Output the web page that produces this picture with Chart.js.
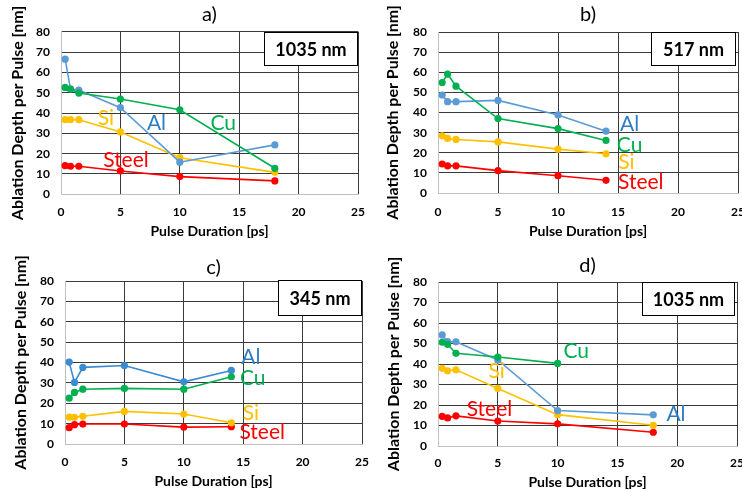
<!DOCTYPE html>
<html><head><meta charset="utf-8">
<script src="https://cdn.jsdelivr.net/npm/chart.js@4"></script>
<style>
html,body{margin:0;padding:0;background:#fff;}
#wrap{position:relative;width:742px;height:492px;overflow:hidden;background:#fff;}
canvas{position:absolute;}
</style></head><body>
<div id="wrap">
<canvas id="ca" width="371" height="246" style="left:0;top:0"></canvas>
<canvas id="cb" width="371" height="246" style="left:371px;top:0"></canvas>
<canvas id="cc" width="371" height="246" style="left:0;top:246px"></canvas>
<canvas id="cd" width="371" height="246" style="left:371px;top:246px"></canvas>
</div>
<script>
// ---- tick labels ----
const xTicks = [0, 5, 10, 15, 20, 25];
const yTicks = [0, 10, 20, 30, 40, 50, 60, 70, 80];
const materials = ['Al', 'Cu', 'Si', 'Steel'];

// ---- panel a) 1035 nm ----
const xA = [0.35, 0.8, 1.5, 5, 10, 18];
const alA = [66.5, 51.8, 51.3, 42.6, 15.8, 24.3];
const cuA = [52.6, 51.8, 49.8, 46.9, 41.6, 12.8];
const siA = [36.7, 36.7, 36.7, 30.7, 18.0, 10.8];
const steelA = [14.1, 13.8, 13.8, 11.5, 8.7, 6.6];

// ---- panel b) 517 nm ----
const xB = [0.35, 0.8, 1.5, 5, 10, 14];
const alB = [48.7, 45.4, 45.4, 46.0, 38.8, 30.7];
const cuB = [54.9, 59.1, 53.1, 37.0, 32.0, 26.1];
const siB = [28.4, 27.1, 26.6, 25.4, 21.8, 19.5];
const steelB = [14.4, 13.5, 13.5, 11.1, 8.6, 6.3];

// ---- panel c) 345 nm ----
const xC = [0.35, 0.8, 1.5, 5, 10, 14];
const alC = [40.2, 30.2, 37.6, 38.5, 30.5, 36.1];
const cuC = [22.5, 25.3, 26.9, 27.3, 26.9, 33.0];
const siC = [13.2, 13.1, 13.6, 16.0, 14.7, 10.4];
const steelC = [8.0, 9.5, 9.8, 9.8, 8.3, 8.5];

// ---- panel d) 1035 nm ----
const xD = [0.35, 0.8, 1.5, 5, 10, 18];
const alD = [54.2, 50.9, 50.8, 42.0, 17.3, 15.2];
const xDcu = [0.35, 0.8, 1.5, 5, 10];
const cuD = [50.6, 49.6, 45.2, 43.4, 40.3];
const siD = [37.9, 36.7, 37.2, 28.1, 15.3, 10.1];
const steelD = [14.5, 13.7, 14.7, 12.2, 10.8, 6.7];

const FONT = 'Lato, "Open Sans", sans-serif';
const colors = {Al: '#5B9BD5', Cu: '#00B050', Si: '#FFC000', Steel: '#FF0000'};
const labelColors = {Al: '#2E7CC4', Cu: '#00B050', Si: '#FFC000', Steel: '#FF0000'};

function pts(xs, ys) { return ys.map((v, i) => ({x: xs[i], y: v})); }

const annotPlugin = {
  id: 'annot',
  afterDatasetsDraw(chart, args, opts) {
    const {ctx, chartArea: ca, scales: {x, y}} = chart;
    ctx.save();
    ctx.font = '21px ' + FONT;
    ctx.textAlign = 'center';
    ctx.textBaseline = 'middle';
    for (const l of opts.labels) {
      ctx.fillStyle = labelColors[l.name];
      ctx.fillText(l.name, x.getPixelForValue(l.x), y.getPixelForValue(l.y));
    }
    const b = opts.box;
    const bx = Math.round(ca.right - b.inset - b.w) + 0.5;
    const by = Math.round(ca.top + b.dy) + 0.5;
    ctx.fillStyle = '#fff';
    ctx.fillRect(bx, by, b.w, b.h);
    ctx.strokeStyle = '#000';
    ctx.lineWidth = 1;
    ctx.strokeRect(bx, by, b.w, b.h);
    ctx.fillStyle = '#000';
    ctx.font = 'bold 18px ' + FONT;
    ctx.fillText(b.text, bx + b.w / 2, by + b.h / 2 + 1);
    ctx.restore();
  }
};

function gridColor(c) { return c.tick && c.tick.value === 0 ? '#c0c0c0' : '#3a3a3a'; }

function makeChart(id, g, title, series, labels, box) {
  const datasets = series.map(s => ({
    label: s.name,
    data: pts(s.x, s.y),
    borderColor: s.color || colors[s.name],
    backgroundColor: s.color || colors[s.name],
    pointBackgroundColor: s.color || colors[s.name],
    pointBorderWidth: 0,
    pointRadius: 3.6,
    borderWidth: 1.6,
    tension: 0,
    clip: false
  }));
  return new Chart(document.getElementById(id), {
    type: 'line',
    data: {datasets},
    plugins: [annotPlugin],
    options: {
      responsive: false,
      animation: false,
      devicePixelRatio: 1,
      layout: {padding: {left: 0, right: g.padR, top: 0, bottom: 0}},
      plugins: {
        legend: {display: false},
        tooltip: {enabled: false},
        title: {
          display: true, text: title, fullSize: false, color: '#000',
          font: {family: FONT, size: 20, weight: 'normal', lineHeight: 1.2},
          padding: {top: g.tTop, bottom: g.tBot}
        },
        annot: {labels, box}
      },
      scales: {
        x: {
          type: 'linear', min: 0, max: 25,
          afterBuildTicks: s => { s.ticks = xTicks.map(v => ({value: v})); },
          ticks: {font: {family: FONT, size: 12, weight: 'bold'}, color: '#000', padding: g.xTickPad, maxRotation: 0},
          grid: {color: gridColor, lineWidth: 1, drawTicks: false},
          border: {color: '#c0c0c0'},
          title: {display: true, text: 'Pulse Duration [ps]', color: '#000',
            font: {family: FONT, size: 14, weight: 'bold', lineHeight: 1.2},
            padding: {top: 0, bottom: g.xTitlePad}},
          afterFit: s => { s.height = g.xH; s.paddingLeft = 0; s.paddingRight = 0; }
        },
        y: {
          type: 'linear', min: 0, max: 80,
          afterBuildTicks: s => { s.ticks = yTicks.map(v => ({value: v})); },
          ticks: {font: {family: FONT, size: 12, weight: 'bold'}, color: '#000', padding: g.yTickPad},
          grid: {color: gridColor, lineWidth: 1, drawTicks: false},
          border: {color: '#c0c0c0'},
          title: {display: true, text: 'Ablation Depth per Pulse [nm]', color: '#000',
            font: {family: FONT, size: 16, weight: 'bold', lineHeight: 1.2},
            padding: {top: g.yTitlePad, bottom: 0}},
          afterFit: s => { s.width = g.yW; s.paddingTop = 0; s.paddingBottom = 0; }
        }
      }
    }
  });
}

makeChart('ca',
  {padR: 13, tTop: 3, tBot: 4.7, xH: 51.7, yW: 61, xTickPad: 10.5, xTitlePad: 6.6, yTickPad: 11, yTitlePad: 7.9},
  'a)',
  [
    {name: 'Cu', x: xA, y: cuA},
    {name: 'Al', x: xA, y: alA},
    {name: 'Si', x: xA, y: siA},
    {name: 'Steel', x: xA, y: steelA}
  ],
  [{name: 'Si', x: 3.78, y: 37.4}, {name: 'Al', x: 8.04, y: 35.2}, {name: 'Cu', x: 13.65, y: 34.9}, {name: 'Steel', x: 5.47, y: 16.6}],
  {text: '1035 nm', w: 93, h: 33, inset: 1, dy: 0});

makeChart('cb',
  {padR: 2, tTop: 3, tBot: 5, xH: 53, yW: 67, xTickPad: 11.5, xTitlePad: 5.9, yTickPad: 11, yTitlePad: 11.9},
  'b)',
  [
    {name: 'Cu', x: xB, y: cuB},
    {name: 'Al', x: xB, y: alB},
    {name: 'Si', x: xB, y: siB},
    {name: 'Steel', x: xB, y: steelB}
  ],
  [{name: 'Al', x: 15.97, y: 34.2}, {name: 'Cu', x: 15.97, y: 23.6}, {name: 'Si', x: 15.7, y: 15.2}, {name: 'Steel', x: 16.9, y: 5.3}],
  {text: '517 nm', w: 84, h: 33, inset: 3, dy: 0});

makeChart('cc',
  {padR: 9, tTop: 10, tBot: 1, xH: 48, yW: 65, xTickPad: 10.5, xTitlePad: 2.6, yTickPad: 11, yTitlePad: 11.4},
  'c)',
  [
    {name: 'Cu', x: xC, y: cuC},
    {name: 'Al', x: xC, y: alC, color: '#3A8BD2'},
    {name: 'Si', x: xC, y: siC},
    {name: 'Steel', x: xC, y: steelC}
  ],
  [{name: 'Al', x: 15.65, y: 42.4}, {name: 'Cu', x: 15.8, y: 32.3}, {name: 'Si', x: 15.65, y: 14.9}, {name: 'Steel', x: 16.6, y: 5.9}],
  {text: '345 nm', w: 83, h: 35, inset: 1, dy: -1});

makeChart('cd',
  {padR: 5, tTop: 8, tBot: 4, xH: 46, yW: 67, xTickPad: 10, xTitlePad: 0.9, yTickPad: 11, yTitlePad: 13.4},
  'd)',
  [
    {name: 'Cu', x: xDcu, y: cuD},
    {name: 'Al', x: xD, y: alD},
    {name: 'Si', x: xD, y: siD},
    {name: 'Steel', x: xD, y: steelD}
  ],
  [{name: 'Cu', x: 11.56, y: 46.4}, {name: 'Si', x: 4.9, y: 36.6}, {name: 'Steel', x: 4.3, y: 17.8}, {name: 'Al', x: 19.9, y: 15.3}],
  {text: '1035 nm', w: 92, h: 33, inset: 3, dy: 0});
</script>
</body></html>
